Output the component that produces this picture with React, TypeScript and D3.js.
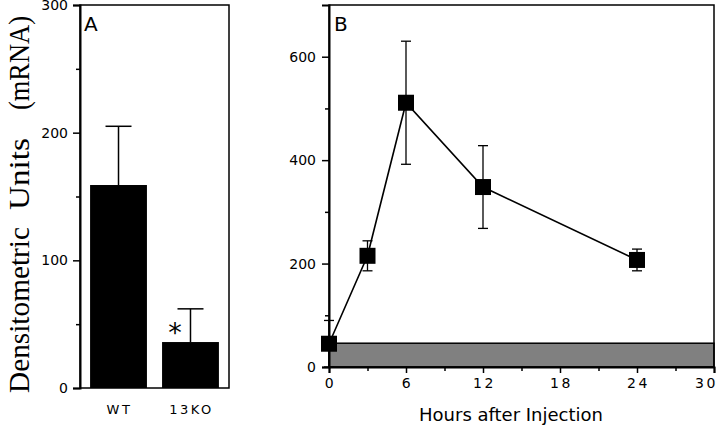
import React, { useEffect, useRef } from 'react';
import * as d3 from 'd3';

// panel A: bar chart
const groups = ['WT', '13KO'];
const groupMeans = [159, 36];
const groupErr = [46, 26];

// panel B: time course
const hours = [0, 3, 6, 12, 24];
const levels = [45, 215, 511, 348, 207];
const levelErr = [45, 29, 119, 80, 21];
const baseline = 46; // shaded band

const xTicksB = [0, 6, 12, 18, 24, 30];
const yTicksA = [0, 100, 200, 300];
const yTicksB = [0, 200, 400, 600];

export default function App() {
  const svgRef = useRef<SVGSVGElement>(null);

  useEffect(() => {
    const svg = d3.select(svgRef.current);
    svg.selectAll('*').remove();
    const tickFont = '"DejaVu Sans", sans-serif';

    // ---------- Panel A ----------
    const ax = { l: 80, r: 229, t: 5, b: 388 };
    const yA = d3.scaleLinear().domain([0, 300]).range([ax.b, ax.t]);
    const xA = d3.scaleBand().domain(groups).range([ax.l, ax.r]).paddingInner(0.21).paddingOuter(0.14);

    const gA = svg.append('g');
    gA.append('rect')
      .attr('x', ax.l).attr('y', ax.t)
      .attr('width', ax.r - ax.l).attr('height', ax.b - ax.t)
      .attr('fill', 'none').attr('stroke', '#000').attr('stroke-width', 1.5);

    gA.selectAll('.bar')
      .data(groups)
      .enter().append('rect')
      .attr('x', d => xA(d)!)
      .attr('y', (d, i) => yA(groupMeans[i]))
      .attr('width', xA.bandwidth())
      .attr('height', (d, i) => yA(0) - yA(groupMeans[i]))
      .attr('fill', '#000');

    groups.forEach((g, i) => {
      const cx = xA(g)! + xA.bandwidth() / 2;
      const top = yA(groupMeans[i] + groupErr[i]);
      gA.append('line').attr('x1', cx).attr('x2', cx)
        .attr('y1', yA(groupMeans[i])).attr('y2', top)
        .attr('stroke', '#000').attr('stroke-width', 1.5);
      gA.append('line').attr('x1', cx - 13).attr('x2', cx + 13)
        .attr('y1', top).attr('y2', top)
        .attr('stroke', '#000').attr('stroke-width', 1.5);
      gA.append('text') // group labels
        .attr('x', cx + 1).attr('y', 414)
        .attr('text-anchor', 'middle')
        .attr('font-family', tickFont).attr('font-size', 13)
        .attr('letter-spacing', 2.5)
        .text(g);
    });

    gA.append('text') // significance star
      .attr('x', xA('13KO')! + 13).attr('y', 342)
      .attr('text-anchor', 'middle')
      .attr('font-family', tickFont).attr('font-size', 27)
      .text('*');

    const yAxisA = gA.append('g').attr('transform', `translate(${ax.l},0)`)
      .call(d3.axisLeft(yA).tickValues(yTicksA).tickSize(7).tickPadding(5).tickFormat(d3.format('d')));
    yAxisA.select('.domain').attr('stroke-width', 2);
    yAxisA.selectAll('line').attr('stroke-width', 1.5);
    yAxisA.selectAll('text').attr('font-family', tickFont).attr('font-size', 14).attr('fill', '#000');
    gA.append('g').attr('transform', `translate(${ax.l},0)`)
      .call(d3.axisLeft(yA).tickValues([50, 150, 250]).tickSize(4).tickFormat(() => ''))
      .call(g => g.select('.domain').remove())
      .selectAll('line').attr('stroke-width', 1.5);

    gA.append('text')
      .attr('x', 84).attr('y', 31)
      .attr('font-family', tickFont).attr('font-size', 20)
      .text('A');

    // y label, serif, words spaced out
    const words = [['Densitometric', 310, 166], ['Units', 174, 72], ['(mRNA)', 63, 94]] as const;
    words.forEach(([w, cy, len]) => {
      svg.append('text')
        .attr('transform', `translate(29,${cy}) rotate(-90)`)
        .attr('text-anchor', 'middle')
        .attr('font-family', '"Liberation Serif", serif')
        .attr('font-size', 30)
        .attr('textLength', len)
        .attr('lengthAdjust', 'spacingAndGlyphs')
        .text(w);
    });

    // ---------- Panel B ----------
    const bx = { l: 329, r: 714, t: 5, b: 367 };
    const xB = d3.scaleLinear().domain([0, 30]).range([bx.l, bx.r]);
    const yB = d3.scaleLinear().domain([0, 700]).range([bx.b, bx.t]);
    const gB = svg.append('g');

    gB.append('rect') // baseline band
      .attr('x', xB(0)).attr('y', yB(baseline))
      .attr('width', xB(30) - xB(0)).attr('height', yB(0) - yB(baseline))
      .attr('fill', '#808080').attr('stroke', '#000').attr('stroke-width', 1.5);

    gB.append('rect')
      .attr('x', bx.l).attr('y', bx.t)
      .attr('width', bx.r - bx.l).attr('height', bx.b - bx.t)
      .attr('fill', 'none').attr('stroke', '#000').attr('stroke-width', 1.5);

    const yAxisB = gB.append('g').attr('transform', `translate(${bx.l},0)`)
      .call(d3.axisLeft(yB).tickValues(yTicksB).tickSize(7).tickPadding(6).tickFormat(d3.format('d')));
    yAxisB.select('.domain').attr('stroke-width', 2);
    yAxisB.selectAll('line').attr('stroke-width', 1.5);
    yAxisB.selectAll('text').attr('font-family', tickFont).attr('font-size', 14).attr('fill', '#000');
    gB.append('g').attr('transform', `translate(${bx.l},0)`)
      .call(d3.axisLeft(yB).tickValues([100, 300, 500]).tickSize(4).tickFormat(() => ''))
      .call(g => g.select('.domain').remove())
      .selectAll('line').attr('stroke-width', 1.5);

    const xAxisB = gB.append('g').attr('transform', `translate(0,${bx.b})`)
      .call(d3.axisBottom(xB).tickValues(xTicksB).tickSize(6).tickPadding(5).tickFormat(d3.format('d')));
    xAxisB.select('.domain').attr('stroke-width', 2);
    xAxisB.selectAll('line').attr('stroke-width', 1.5);
    xAxisB.selectAll('text').attr('font-family', tickFont).attr('font-size', 14)
      .attr('letter-spacing', 2.5).attr('dx', (d: any) => (d === 30 ? -8 : 1)).attr('fill', '#000');
    gB.append('g').attr('transform', `translate(0,${bx.b})`)
      .call(d3.axisBottom(xB).tickValues([3, 9, 15, 21, 27]).tickSize(4).tickFormat(() => ''))
      .call(g => g.select('.domain').remove())
      .selectAll('line').attr('stroke-width', 1.5);

    gB.append('text')
      .attr('x', 511).attr('y', 421)
      .attr('text-anchor', 'middle')
      .attr('font-family', tickFont).attr('font-size', 18)
      .text('Hours after Injection');

    gB.append('text')
      .attr('x', 334).attr('y', 31)
      .attr('font-family', tickFont).attr('font-size', 20)
      .text('B');

    // error bars
    hours.forEach((h, i) => {
      const cx = xB(h);
      const lo = yB(Math.max(0, levels[i] - levelErr[i]));
      const hi = yB(levels[i] + levelErr[i]);
      gB.append('line').attr('x1', cx).attr('x2', cx).attr('y1', lo).attr('y2', hi)
        .attr('stroke', '#000').attr('stroke-width', 1.3);
      [lo, hi].forEach(yy => {
        gB.append('line').attr('x1', cx - 5).attr('x2', cx + 5).attr('y1', yy).attr('y2', yy)
          .attr('stroke', '#000').attr('stroke-width', 1.3);
      });
    });

    const line = d3.line<number>().x((d, i) => xB(hours[i])).y(d => yB(d));
    gB.append('path').datum(levels)
      .attr('d', line)
      .attr('fill', 'none').attr('stroke', '#000').attr('stroke-width', 1.6);

    gB.selectAll('.pt')
      .data(levels)
      .enter().append('rect')
      .attr('x', (d, i) => xB(hours[i]) - 8)
      .attr('y', d => yB(d) - 8)
      .attr('width', 16).attr('height', 16)
      .attr('fill', '#000');
  }, []);

  return (
    <svg ref={svgRef} width={720} height={426}
      style={{ position: 'absolute', left: 0, top: 0, background: '#fff' }} />
  );
}
